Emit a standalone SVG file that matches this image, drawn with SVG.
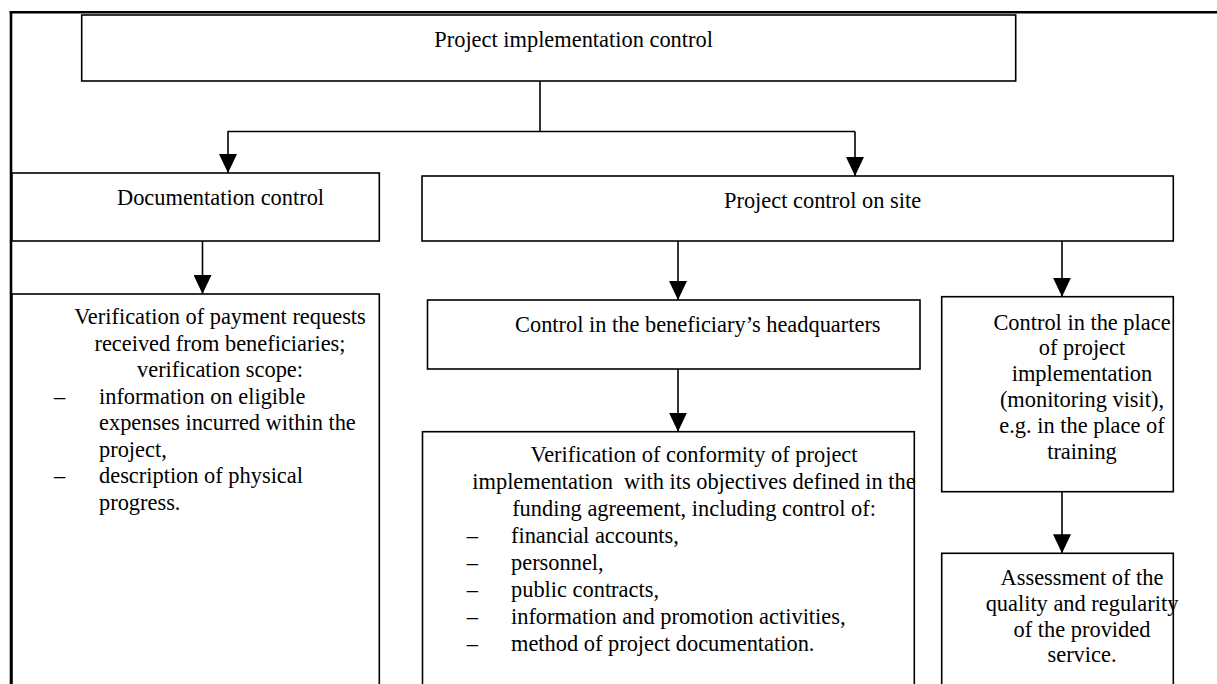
<svg xmlns="http://www.w3.org/2000/svg" width="1217" height="684" viewBox="0 0 1217 684">
  <style>
    .box { fill: #ffffff; stroke: #000000; stroke-width: 1.6; }
    .frame { fill: none; stroke: #000000; stroke-width: 2.6; }
    .conn { fill: none; stroke: #000000; stroke-width: 1.6; }
    text { font-family: "Liberation Serif", "Times New Roman", serif; font-size: 22.4px; fill: #000000; }
    .c { text-anchor: middle; }
    .pre { white-space: pre; }
  </style>
  <defs>
    <marker id="arrow" markerUnits="userSpaceOnUse" markerWidth="19" markerHeight="18" refX="19" refY="9" orient="auto">
      <path d="M0,0 L19,9 L0,18 Z" fill="#000000"/>
    </marker>
  </defs>
  <rect x="0" y="0" width="1217" height="684" fill="#ffffff"/>

  <g id="frame">
    <line class="frame" x1="9.7" y1="12.3" x2="1217" y2="12.3"/>
    <line class="frame" x1="11" y1="11" x2="11" y2="684"/>
  </g>

  <g id="connectors">
    <line class="conn" x1="540" y1="81" x2="540" y2="131.5"/>
    <line class="conn" x1="227.5" y1="131.5" x2="855" y2="131.5"/>
    <line class="conn" x1="228" y1="131.5" x2="228" y2="173" marker-end="url(#arrow)"/>
    <line class="conn" x1="855" y1="131.5" x2="855" y2="176" marker-end="url(#arrow)"/>
    <line class="conn" x1="202.5" y1="241" x2="202.5" y2="294" marker-end="url(#arrow)"/>
    <line class="conn" x1="678" y1="241" x2="678" y2="300" marker-end="url(#arrow)"/>
    <line class="conn" x1="1062" y1="241" x2="1062" y2="296.7" marker-end="url(#arrow)"/>
    <line class="conn" x1="678" y1="369" x2="678" y2="431.7" marker-end="url(#arrow)"/>
    <line class="conn" x1="1062" y1="491.7" x2="1062" y2="553.3" marker-end="url(#arrow)"/>
  </g>

  <g id="node-top">
    <rect class="box" x="81.7" y="15" width="934" height="66"/>
    <text x="434.3" y="46.7">Project implementation control</text>
  </g>

  <g id="node-documentation">
    <rect class="box" x="12" y="173" width="367.3" height="68"/>
    <text x="117" y="205">Documentation control</text>
  </g>

  <g id="node-site">
    <rect class="box" x="422" y="176" width="751.3" height="65"/>
    <text x="724" y="208.3">Project control on site</text>
  </g>

  <g id="node-payment">
    <rect class="box" x="12" y="294" width="367.3" height="420"/>
    <text class="c" x="220" y="324.3">Verification of payment requests</text>
    <text class="c" x="220" y="350.8">received from beneficiaries;</text>
    <text class="c" x="220" y="377.2">verification scope:</text>
    <text x="54" y="403.7">–</text>
    <text x="99" y="403.7">information on eligible</text>
    <text x="99" y="430.1">expenses incurred within the</text>
    <text x="99" y="456.6">project,</text>
    <text x="54" y="483">–</text>
    <text x="99" y="483">description of physical</text>
    <text x="99" y="509.5">progress.</text>
  </g>

  <g id="node-headquarters">
    <rect class="box" x="427.5" y="300" width="492.5" height="69"/>
    <text x="515" y="331.7">Control in the beneficiary’s headquarters</text>
  </g>

  <g id="node-conformity">
    <rect class="box" x="422.5" y="431.7" width="491.8" height="290"/>
    <text class="c" x="694" y="461.7">Verification of conformity of project</text>
    <text class="c pre" x="694" y="488.8">implementation  with its objectives defined in the</text>
    <text class="c" x="694" y="515.9">funding agreement, including control of:</text>
    <text x="466.7" y="543">–</text>
    <text x="511" y="543">financial accounts,</text>
    <text x="466.7" y="570.1">–</text>
    <text x="511" y="570.1">personnel,</text>
    <text x="466.7" y="597.2">–</text>
    <text x="511" y="597.2">public contracts,</text>
    <text x="466.7" y="624.3">–</text>
    <text x="511" y="624.3">information and promotion activities,</text>
    <text x="466.7" y="651.4">–</text>
    <text x="511" y="651.4">method of project documentation.</text>
  </g>

  <g id="node-place">
    <rect class="box" x="941.7" y="296.7" width="231.6" height="195"/>
    <text class="c" x="1082" y="329.5">Control in the place</text>
    <text class="c" x="1082" y="355.3">of project</text>
    <text class="c" x="1082" y="381.1">implementation</text>
    <text class="c" x="1082" y="406.9">(monitoring visit),</text>
    <text class="c" x="1082" y="432.7">e.g. in the place of</text>
    <text class="c" x="1082" y="458.5">training</text>
  </g>

  <g id="node-assessment">
    <rect class="box" x="941.7" y="553.3" width="231.6" height="160"/>
    <text class="c" x="1082" y="585.3">Assessment of the</text>
    <text class="c" x="1082" y="611">quality and regularity</text>
    <text class="c" x="1082" y="636.7">of the provided</text>
    <text class="c" x="1082" y="662.4">service.</text>
  </g>
</svg>
